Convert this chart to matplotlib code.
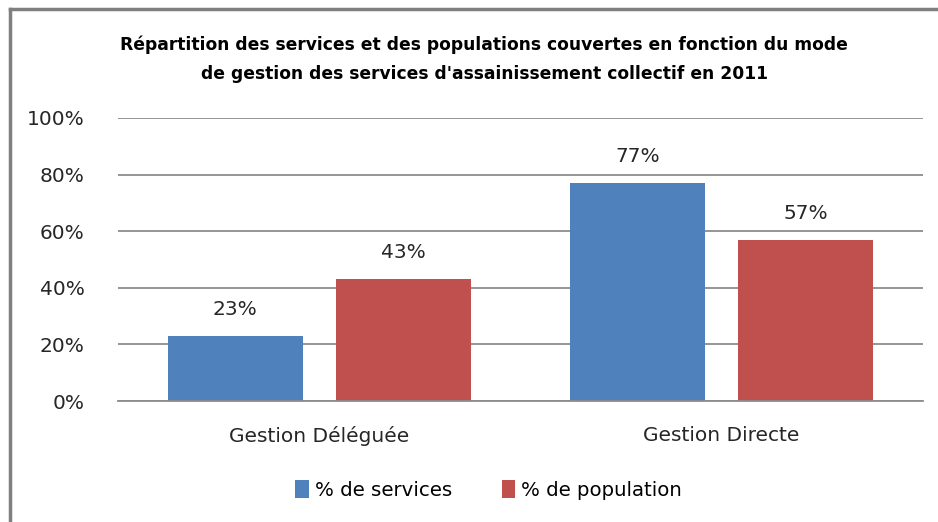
import matplotlib
matplotlib.use("Agg")
import matplotlib.pyplot as plt
import numpy as np
from matplotlib.lines import Line2D

# données
categories = ["Gestion Déléguée", "Gestion Directe"]
services = [23, 77]
population = [43, 57]
series_noms = ["% de services", "% de population"]
yticks = [0, 20, 40, 60, 80, 100]

bleu = "#4F81BD"
rouge = "#C0504D"

plt.rcParams['font.family'] = ['DejaVu Sans']

fig = plt.figure(figsize=(9.38, 5.22), dpi=100)
ax = fig.add_axes([0.1258, 0.2318, 0.858, 0.5422])

x = np.arange(len(categories))
w = 0.335
b1 = ax.bar(x - 0.209, services, w, color=bleu, label=series_noms[0])
b2 = ax.bar(x + 0.209, population, w, color=rouge, label=series_noms[1])

for bars in (b1, b2):
    for r in bars:
        ax.annotate(f"{r.get_height():.0f}%", (r.get_x() + r.get_width() / 2, r.get_height()),
                    xytext=(0, 19), textcoords="offset points", ha="center", va="center",
                    fontsize=14.5, color="#262626")

ax.set_xlim(-0.5, 1.5)
ax.set_ylim(0, 100)
ax.set_yticks(yticks)
ax.set_yticklabels([f"{v}%" for v in yticks], fontsize=14.5, color="#262626")
ax.set_xticks(x)
ax.set_xticklabels(categories, fontsize=14.5, color="#262626")
ax.tick_params(axis="both", length=0)
ax.tick_params(axis="y", pad=24)
ax.tick_params(axis="x", pad=18)
ax.yaxis.grid(True, color="#8c8c8c", lw=1.3)
ax.set_axisbelow(True)
for s in ["top", "right", "left"]:
    ax.spines[s].set_visible(False)
ax.spines["bottom"].set_color("#8c8c8c")
ax.spines["bottom"].set_linewidth(1.3)

fig.text(0.516, 0.887, "Répartition des services et des populations couvertes en fonction du mode\n"
         "de gestion des services d'assainissement collectif en 2011",
         ha="center", va="center", fontsize=12.3, fontweight="bold", linespacing=1.8)

fig.legend(handles=[b1, b2], labels=series_noms, loc="center", bbox_to_anchor=(0.521, 0.061),
           ncol=2, frameon=False, fontsize=14.2, handlelength=0.7, handleheight=1.0,
           handletextpad=0.3, columnspacing=2.5)

# cadre du graphique
fig.add_artist(Line2D([0.0107, 1.0], [0.9828, 0.9828], color="#7f7f7f", lw=2.5))
fig.add_artist(Line2D([0.0107, 0.0107], [0.0, 0.9828], color="#7f7f7f", lw=2.5))

fig.savefig("out.png", dpi=100)
